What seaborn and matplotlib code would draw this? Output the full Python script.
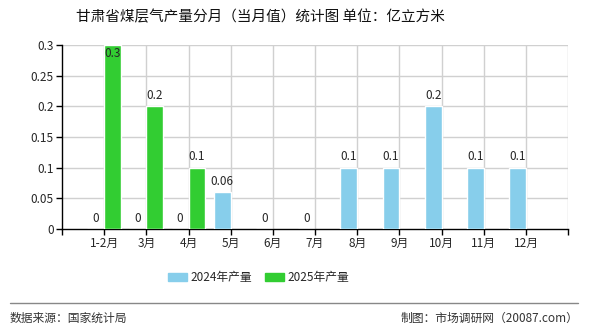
import numpy as np
import pandas as pd
import matplotlib
matplotlib.use("Agg")
import matplotlib.pyplot as plt
import seaborn as sns
from matplotlib.lines import Line2D

months = ["1-2月", "3月", "4月", "5月", "6月", "7月", "8月", "9月", "10月", "11月", "12月"]
v2024 = [0, 0, 0, 0.06, 0, 0, 0.1, 0.1, 0.2, 0.1, 0.1]
v2025 = [0.3, 0.2, 0.1, None, None, None, None, None, None, None, None]
series = ["2024年产量", "2025年产量"]
colors = ["#87CEEB", "#32CD32"]
yticks = [0, 0.05, 0.1, 0.15, 0.2, 0.25, 0.3]
ytick_labels = ["0", "0.05", "0.1", "0.15", "0.2", "0.25", "0.3"]

sns.set_theme(style="white")
plt.rcParams["font.family"] = ["Noto Sans CJK SC", "DejaVu Sans"]

rows = []
for m, a, b in zip(months, v2024, v2025):
    rows.append({"month": m, "series": series[0], "value": a})
    rows.append({"month": m, "series": series[1], "value": b})
df = pd.DataFrame(rows)
df["value"] = pd.to_numeric(df["value"])

fig = plt.figure(figsize=(5.9, 3.3), dpi=100)
ax = fig.add_axes([0.105, 0.306, 0.858, 0.558])

sns.barplot(data=df, x="month", y="value", hue="series", order=months,
            hue_order=series, palette=colors, width=0.8, saturation=1,
            ax=ax, legend=False, zorder=3)

ymax = 0.3
ax.set_ylim(0, ymax)
ax.set_xlim(-1, 11)
ax.set_yticks(yticks)
ax.set_yticklabels(ytick_labels, fontsize=8.5)
ax.set_xticks(range(len(months)))
ax.set_xticklabels(months, fontsize=8.5)
ax.set_xticks([-1, 11], minor=True)
ax.tick_params(axis="both", which="both", direction="out", length=4, width=1,
               color="black", bottom=True, left=True, pad=2)
ax.set_xlabel("")
ax.set_ylabel("")

# grid
for y in yticks[1:]:
    ax.axhline(y, color="#d0d0d0", lw=1, zorder=0)
for x in list(range(len(months))) + [11]:
    ax.axvline(x, color="#d0d0d0", lw=1, zorder=0)

for s in ["top", "right"]:
    ax.spines[s].set_visible(False)
for s in ["left", "bottom"]:
    ax.spines[s].set_color("black")
    ax.spines[s].set_linewidth(1)

# value labels
for cont in ax.containers:
    for p in cont.patches:
        h = p.get_height()
        if np.isnan(h):
            continue
        x = p.get_x() + p.get_width() / 2
        lab = f"{h:g}"
        if h >= ymax - 0.005:
            ax.text(x, h - 0.004, lab, ha="center", va="top", fontsize=8.5, zorder=5)
        else:
            ax.text(x, h + 0.007, lab, ha="center", va="bottom", fontsize=8.5, zorder=5)

fig.text(0.442, 0.948, "甘肃省煤层气产量分月（当月值）统计图 单位：亿立方米",
         ha="center", va="center", fontsize=10.5, color="#111111")

handles = [plt.Rectangle((0, 0), 1, 1, color=c) for c in colors]
fig.legend(handles, series, loc="center", bbox_to_anchor=(0.439, 0.158),
           ncol=2, frameon=False, fontsize=8.5, handlelength=1.6,
           handleheight=0.7, columnspacing=1.1, handletextpad=0.3)

fig.add_artist(Line2D([0.017, 0.98], [0.082, 0.082], transform=fig.transFigure,
                      color="#888888", lw=1))
fig.text(0.017, 0.036, "数据来源：国家统计局", ha="left", va="center",
         fontsize=8.5, color="#333333")
fig.text(0.98, 0.036, "制图：市场调研网（20087.com）", ha="right", va="center",
         fontsize=8.5, color="#333333")

fig.savefig("out.png", dpi=100)
